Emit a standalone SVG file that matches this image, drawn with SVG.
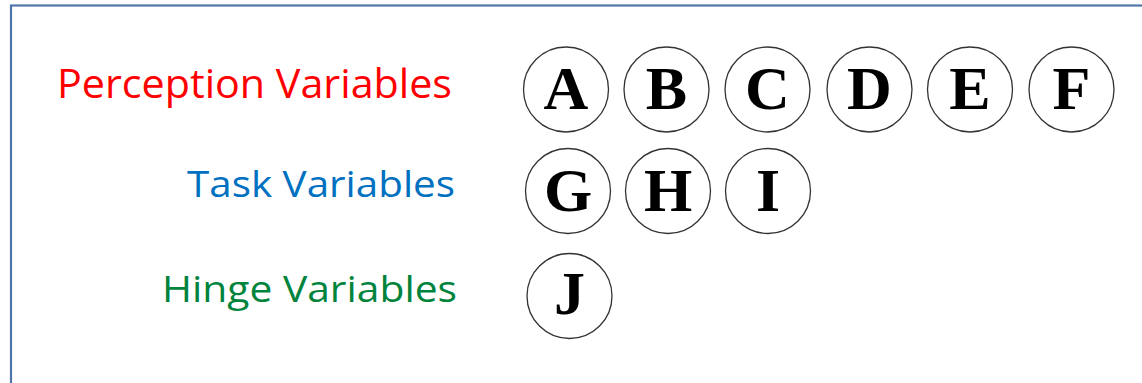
<svg xmlns="http://www.w3.org/2000/svg" width="1142" height="383" viewBox="0 0 1142 383">
<style>
.frame{fill:none;stroke:#4f76a8;stroke-width:2.2}
.lbl{font-family:"Open Sans","Liberation Sans",sans-serif;text-anchor:end}
.node circle{fill:#fff;stroke:#333;stroke-width:1.3}
.node text{font-family:"Liberation Serif","DejaVu Serif",serif;font-weight:bold;font-size:62px;text-anchor:middle;fill:#000}
</style>
<rect x="0" y="0" width="1142" height="383" fill="#fff"/>
<rect class="frame" x="11" y="5.5" width="1200" height="420"/>
<text class="lbl" x="452" y="98" font-size="40" fill="#ff0000" textLength="395" lengthAdjust="spacingAndGlyphs">Perception Variables</text>
<text class="lbl" x="455" y="197" font-size="37" fill="#0070c0" textLength="268" lengthAdjust="spacingAndGlyphs">Task Variables</text>
<text class="lbl" x="457" y="302" font-size="37" fill="#00843d" textLength="295" lengthAdjust="spacingAndGlyphs">Hinge Variables</text>
<g id="connectors"></g>
<g id="A" class="node"><circle cx="566" cy="89.5" r="42.5"/><text x="566" y="109">A</text></g>
<g id="B" class="node"><circle cx="666.5" cy="89.5" r="42.5"/><text x="666.5" y="109">B</text></g>
<g id="C" class="node"><circle cx="767.5" cy="89.5" r="42.5"/><text x="767.5" y="109">C</text></g>
<g id="D" class="node"><circle cx="869.5" cy="89.5" r="42.5"/><text x="869.5" y="109">D</text></g>
<g id="E" class="node"><circle cx="970" cy="89.5" r="42.5"/><text x="970" y="109">E</text></g>
<g id="F" class="node"><circle cx="1071.5" cy="89.5" r="42.5"/><text x="1071.5" y="109">F</text></g>
<g id="G" class="node"><circle cx="568" cy="191" r="42.5"/><text x="568" y="211">G</text></g>
<g id="H" class="node"><circle cx="668" cy="191" r="42.5"/><text x="668" y="211">H</text></g>
<g id="I" class="node"><circle cx="768" cy="191" r="42.5"/><text x="768" y="211">I</text></g>
<g id="J" class="node"><circle cx="569.5" cy="296" r="42.5"/><text x="569.5" y="314">J</text></g>
</svg>
